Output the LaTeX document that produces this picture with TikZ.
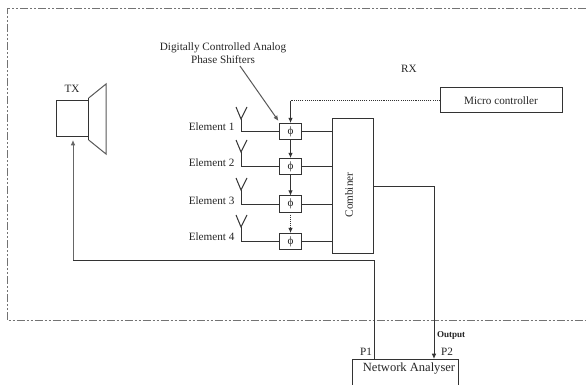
\documentclass[tikz,border=0pt]{standalone}
\usepackage{fontspec}
\setmainfont{Liberation Serif}
\usetikzlibrary{arrows.meta}
\tikzset{
 x=0.75pt,y=-0.75pt,
 every node/.style={inner sep=0pt,outer sep=0pt,font=\fontsize{8.4pt}{10pt}\selectfont,text=black!85},
 line/.style={draw=black!80,line width=0.75pt},
 tip/.style={-{Latex[length=4pt,width=3.5pt]}},
 finedots/.style={dash pattern=on 0.8pt off 0.8pt},
 shifter/.style={line,minimum width=17pt,minimum height=12.6pt},
 border/.style={draw=black!55,line width=0.75pt,dash pattern=on 6pt off 1.5pt on 1.5pt off 1.5pt on 1.5pt off 1.5pt},
}
\begin{document}
\begin{tikzpicture}
\useasboundingbox (0,0) rectangle (586,385);
\fill[white] (0,0) rectangle (586,385);
\draw[border] (586,9) -- (7,9) -- (7,320.5) -- (586,320.5);
% TX
\node[line,minimum width=24.5pt,minimum height=27.5pt] (tx) at (72.5,118.5) {};
\coordinate (hornA) at (88.7,98);
\coordinate (hornB) at (106,84);
\coordinate (hornC) at (106,154);
\coordinate (hornD) at (88.7,140);
\draw[line,draw=black!65] (hornA) -- (hornB) -- (hornC) -- (hornD);
\draw[line] (hornA) -- (hornD);
\node (txl) at (72,89) {TX};
\node (rxl) at (409,69) {RX};
% phase shifters
\node[shifter] (p1) at (290.5,131.5) {ϕ};
\node[shifter] (p2) at (290.5,166.5) {ϕ};
\node[shifter] (p3) at (290.5,204) {ϕ};
\node[shifter] (p4) at (290.5,241.5) {ϕ};
\node[line,minimum width=31pt,minimum height=100.5pt] (comb) at (353,186) {};
\node[rotate=90] (combl) at (349,195) {Combiner};
\node[line,minimum width=91.5pt,minimum height=18.75pt] (mc) at (501,100.5) {Micro controller};
\node[anchor=north,draw=none,minimum width=80pt,minimum height=19.5pt] (na) at (405.5,359) {};
\draw[line] (na.south west) -- (na.north west) -- (na.north east) -- (na.south east);
\node[font=\fontsize{9.4pt}{10pt}\selectfont] (nal) at (409,369) {Network Analyser};
% element labels
\node[anchor=east] (e1) at (234.5,127) {Element 1};
\node[anchor=east] (e2) at (234.5,163) {Element 2};
\node[anchor=east] (e3) at (234.5,201) {Element 3};
\node[anchor=east] (e4) at (234.5,237) {Element 4};
% antennas
\foreach \i/\t/\y in {1/107/131.5,2/140/166.5,3/178/204,4/215/241.5}{
 \coordinate (a\i) at (241,\t+12);
 \coordinate (al\i) at (236,\t);
 \coordinate (ar\i) at (247,\t);
 \coordinate (ab\i) at (241,\y);
 \draw[line] (al\i) -- (a\i) -- (ar\i);
 \draw[line] (a\i) -- (ab\i) -- (p\i.west);
 \draw[line] (p\i.east) -- (comb.west |- p\i.east);
}
% control
\draw[line,tip] (p1) -- (p2);
\draw[line,tip] (p2) -- (p3);
\draw[line,finedots,tip] (p3) -- (p4);
\coordinate (ctl) at (290.5,101);
\draw[line,finedots] (mc.west |- ctl) -- (ctl);
\draw[line,tip] (ctl) -- (p1);
% annotation
\node[align=center] (ann) at (223,53) {Digitally Controlled Analog\\[-0.5pt]Phase Shifters};
\coordinate (annS) at (240,66);
\draw[line,draw=black!65,tip] (annS) -- (278.5,121);
% output
\coordinate (o1) at (434,186);
\coordinate (o2) at (434,359);
\draw[line,tip] (comb.east |- o1) -- (o1) -- (o2);
\node[anchor=west,font=\fontsize{6.8pt}{7pt}\selectfont\bfseries] (out) at (437,335) {Output};
\node (p2l) at (447,352) {P2};
\node (p1l) at (366,352) {P1};
% P1 to TX
\coordinate (f1) at (374,359);
\coordinate (f2) at (374,260);
\coordinate (f3) at (73,260);
\coordinate (f4) at (73,140);
\draw[line] (f1) -- (f2) -- (f3);
\draw[line,tip,draw=black!60,fill=black!60] (f3) -- (f4);
\end{tikzpicture}
\end{document}
